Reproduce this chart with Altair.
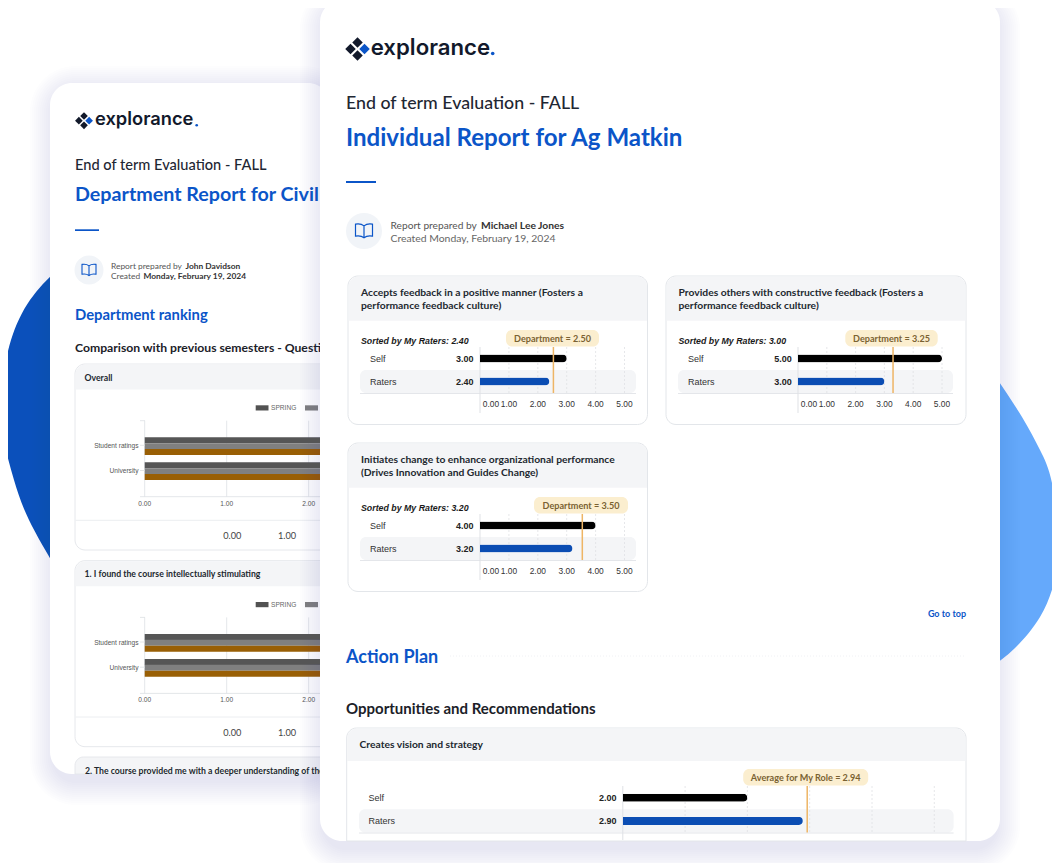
import altair as alt

# ---------- data ----------
AXIS_TICKS = [0, 1, 2, 3, 4, 5]
ROWS = ["Self", "Raters"]

P1_TITLE = ["Accepts feedback in a positive manner (Fosters a", "performance feedback culture)"]
P1_VALUES = [3.00, 2.40]
P1_MARK = 2.54
P1_MARK_LABEL = "Department = 2.50"
P1_SORT = "Sorted by My Raters: 2.40"

P2_TITLE = ["Provides others with constructive feedback (Fosters a", "performance feedback culture)"]
P2_VALUES = [5.00, 3.00]
P2_MARK = 3.30
P2_MARK_LABEL = "Department = 3.25"
P2_SORT = "Sorted by My Raters: 3.00"

P3_TITLE = ["Initiates change to enhance organizational performance", "(Drives Innovation and Guides Change)"]
P3_VALUES = [4.00, 3.20]
P3_MARK = 3.54
P3_MARK_LABEL = "Department = 3.50"
P3_SORT = "Sorted by My Raters: 3.20"

P4_VALUES = [2.00, 2.89]
P4_MARK = 2.96
P4_MARK_LABEL = "Average for My Role = 2.94"

BACK_CATS = ["Student ratings", "University"]
BACK_SPRING = [3.0, 3.0]
BACK_MIDDLE = [3.0, 3.0]
BACK_FALL = [3.0, 3.0]
BACK_TICKS = [0, 1, 2]

BLOB_L_Y = [270, 300, 340, 380, 407, 440, 480, 520, 570]
BLOB_L_X = [57, 30, 11, 3, 1.5, 4, 14, 29, 57]
BLOB_R_Y = [376, 417, 450, 483, 542, 583, 617, 648, 668]
BLOB_R_X = [995, 1022, 1040, 1052, 1059, 1054, 1040, 1015, 990]

BLUE = "#0b55c8"
INK = "#1f2733"
OX = 8
ONE = alt.Data(values=[{"a": 1}])
BOOK = ("M0,-0.6 C-0.3,-0.85 -0.7,-0.85 -1,-0.8 L-1,0.6 C-0.7,0.55 -0.3,0.55 0,0.8 "
        "C0.3,0.55 0.7,0.55 1,0.6 L1,-0.8 C0.7,-0.85 0.3,-0.85 0,-0.6 Z M0,-0.6 L0,0.8")

layers = []


def rect(x0, y0, x1, y1, fill, r=0, stroke=None, sw=1, opacity=None, top_only=False):
    kw = {"fill": fill}
    if top_only:
        kw.update(cornerRadiusTopLeft=r, cornerRadiusTopRight=r)
    elif r:
        kw["cornerRadius"] = r
    if stroke:
        kw.update(stroke=stroke, strokeWidth=sw)
    if opacity is not None:
        kw["opacity"] = opacity
    layers.append(alt.Chart(ONE).mark_rect(**kw).encode(
        x=alt.value(x0 - OX), x2=alt.value(x1 - OX),
        y=alt.value(y0 - OX), y2=alt.value(y1 - OX)))


def text(x, y, s, size=10, color=INK, weight="normal", font="Lato", align="left", style=None):
    kw = dict(fontSize=size, color=color, fontWeight=weight, font=font, align=align, baseline="middle")
    if style:
        kw["fontStyle"] = style
    layers.append(alt.Chart(ONE).mark_text(**kw).encode(
        x=alt.value(x - OX), y=alt.value(y + 0.08 * size - OX), text=alt.value(s)))


def rule(x0, y0, x1, y1, color, w=1, dash=None):
    kw = dict(color=color, strokeWidth=w)
    if dash:
        kw["strokeDash"] = dash
    layers.append(alt.Chart(ONE).mark_rule(**kw).encode(
        x=alt.value(x0 - OX), x2=alt.value(x1 - OX),
        y=alt.value(y0 - OX), y2=alt.value(y1 - OX)))


def sym(x, y, shape, size, fill=None, stroke=None, sw=1):
    kw = dict(shape=shape, size=size, opacity=1)
    if fill:
        kw.update(filled=True, color=fill)
    else:
        kw.update(filled=False, color=stroke, strokeWidth=sw)
    layers.append(alt.Chart(ONE).mark_point(**kw).encode(
        x=alt.value(x - OX), y=alt.value(y - OX)))


def shadow(x0, y0, x1, y1, r, dy=7, inset=4, n=12, a=0.011):
    for i in range(n, 0, -1):
        g = i * 2
        rect(x0 + inset - g, y0 - g + dy, x1 - inset + g, y1 + g + dy, "#2f5597", r=r + g, opacity=a)


def blob(ys, xs, base, color):
    rows = [{"y": a, "x": b, "b": base} for a, b in zip(ys, xs)]
    xs_scale = alt.Scale(domain=[0, 1060], range=[-OX, 1060 - OX])
    ys_scale = alt.Scale(domain=[0, 863], range=[-OX, 863 - OX])
    layers.append(alt.Chart(alt.Data(values=rows)).mark_area(
        orient="horizontal", interpolate="natural", color=color, opacity=1, clip=False).encode(
        x=alt.X("x:Q", scale=xs_scale, axis=None),
        x2="b:Q",
        y=alt.Y("y:Q", scale=ys_scale, axis=None, sort=None)))


def logo(cx, cy, k, tx, size, dot_x, dot_y):
    s = (10.5 * k) ** 2
    sym(cx, cy - 6.4 * k, "diamond", s, fill="#12192b")
    sym(cx - 7 * k, cy, "diamond", s, fill="#12192b")
    sym(cx, cy + 6.4 * k, "diamond", s, fill="#12192b")
    sym(cx + 7 * k, cy, "diamond", s, fill=BLUE)
    text(tx, cy - 1 * k - 0.08 * size, "explorance", size, "#12192b", 600, "Inter")
    sym(dot_x, dot_y, "circle", (3.6 * k) ** 2, fill=BLUE)


def panel(cx, cy, cw, ch, head_h, title_lines, title_x, values, mark, mark_label, pill, sort_label,
          bar_x0, bar_x1, row_y0, row_y1, label_x, value_x, band_x0, band_x1, clipped=False):
    # card and header
    rect(cx, cy, cx + cw, cy + ch, "#ffffff", r=10, stroke="#e3e6ea", top_only=clipped)
    rect(cx + 0.5, cy + 0.5, cx + cw - 0.5, cy + head_h, "#f4f5f7", r=10, top_only=True)
    for i, t in enumerate(title_lines):
        text(title_x, cy + (head_h / 2 if len(title_lines) == 1 else 16.2 + i * 12.7), t, 10.3, "#22282f", "bold")
    if sort_label:
        text(title_x, row_y0 - 6.6, sort_label, 8.8, "#1a1a1a", "bold", "Liberation Sans", style="italic")
    h = (row_y1 - row_y0) / 2
    # highlighted row
    rect(band_x0, row_y0 + h, band_x1, row_y1, "#f4f5f7", r=6)
    rule(band_x0, row_y1 + 0.5, band_x1, row_y1 + 0.5, "#e4e6ea")
    xs = alt.Scale(domain=[0, 5], range=[bar_x0 - OX, bar_x1 - OX], nice=False, zero=False)
    ys = alt.Scale(domain=ROWS, range=[row_y0 - OX, row_y1 - OX], paddingInner=0, paddingOuter=0)
    # grid lines from the tick list
    grid = alt.Data(values=[{"t": t} for t in AXIS_TICKS[1:]])
    layers.append(alt.Chart(grid).mark_rule(color="#dfe1e5", strokeWidth=0.8, strokeDash=[2, 2]).encode(
        x=alt.X("t:Q", scale=xs, axis=None),
        y=alt.value(row_y0 - OX), y2=alt.value(row_y1 - OX)))
    rule(bar_x0, row_y0, bar_x0, min(row_y1 + 20, cy + ch - 1), "#dfe1e5")
    # bars
    rows = [{"k": k, "v": v, "c": c} for k, v, c in zip(ROWS, values, ["#000000", "#0b4db3"])]
    layers.append(alt.Chart(alt.Data(values=rows)).mark_bar(height=8, cornerRadiusEnd=3.9).encode(
        x=alt.X("v:Q", scale=xs, axis=None),
        y=alt.Y("k:N", scale=ys, axis=None, sort=None),
        color=alt.Color("c:N", scale=None, legend=None)))
    # row names and values
    for i, k in enumerate(ROWS):
        yy = row_y0 + h * (i + 0.5) - 0.5
        text(label_x, yy, k, 9, "#333333", "normal", "Liberation Sans")
        text(value_x, yy, f"{values[i]:.2f}" if k == "Self" or not clipped else "2.90",
             9, "#222222", "bold", "Liberation Sans", align="right")
    # tick labels
    if not clipped:
        lab = [{"t": t, "s": f"{t:.2f}"} for t in AXIS_TICKS[1:]]
        layers.append(alt.Chart(alt.Data(values=lab)).mark_text(
            fontSize=8.4, font="Liberation Sans", color="#333333", baseline="middle").encode(
            x=alt.X("t:Q", scale=xs, axis=None), y=alt.value(row_y1 + 11 - OX), text="s:N"))
        lab0 = [{"t": 0, "s": "0.00"}]
        layers.append(alt.Chart(alt.Data(values=lab0)).mark_text(
            fontSize=8.4, font="Liberation Sans", color="#333333", baseline="middle", dx=11).encode(
            x=alt.X("t:Q", scale=xs, axis=None), y=alt.value(row_y1 + 11 - OX), text="s:N"))
    # marker line
    layers.append(alt.Chart(alt.Data(values=[{"m": mark}])).mark_rule(color="#eeb565", strokeWidth=1.5).encode(
        x=alt.X("m:Q", scale=xs, axis=None), y=alt.value(row_y0 - OX), y2=alt.value(row_y1 - OX)))
    # pill
    px0, px1 = pill
    rect(px0, row_y0 - 17, px1, row_y0 - 0.5, "#fbeecf", r=6)
    text((px0 + px1) / 2, row_y0 - 9.2, mark_label, 9.1, "#7a6232", "bold", align="center")


def back_chart(top, title):
    rect(75, top, 345, top + 186, "#ffffff", r=10, stroke="#e6e8ec")
    rect(75.5, top + 0.5, 345, top + 25.5, "#f4f5f7", r=10, top_only=True)
    text(84.5, top + 13, title, 8.7, "#22282f", "bold")
    # legend
    rect(255.7, top + 41.3, 268.5, top + 46.5, "#525252")
    text(271, top + 43.5, "SPRING", 6.6, "#666666", "normal", "Liberation Sans")
    rect(305, top + 41.3, 318, top + 46.5, "#808080")
    # axis
    xs = alt.Scale(domain=[0, 5], range=[144.7 - OX, 554.7 - OX], nice=False, zero=False)
    ys = alt.Scale(domain=BACK_CATS, range=[top + 69.6 - OX, top + 119.6 - OX], paddingInner=0, paddingOuter=0)
    grid = alt.Data(values=[{"t": t} for t in BACK_TICKS])
    layers.append(alt.Chart(grid).mark_rule(color="#dcdfe3", strokeWidth=0.8).encode(
        x=alt.X("t:Q", scale=xs, axis=None), y=alt.value(top + 56.7 - OX), y2=alt.value(top + 132.7 - OX)))
    rule(140, top + 132.7, 345, top + 132.7, "#dcdfe3", 0.8)
    rule(140, top + 56.7, 145, top + 56.7, "#dcdfe3", 0.8)
    for series, col, off in [(BACK_SPRING, "#565656", -5.9), (BACK_MIDDLE, "#808080", 0), (BACK_FALL, "#995f05", 5.9)]:
        rows = [{"k": k, "v": v} for k, v in zip(BACK_CATS, series)]
        layers.append(alt.Chart(alt.Data(values=rows)).mark_bar(height=5.95, yOffset=off, color=col).encode(
            x=alt.X("v:Q", scale=xs, axis=None),
            y=alt.Y("k:N", scale=ys, axis=None, sort=None)))
    for i, c in enumerate(BACK_CATS):
        yy = top + 81.3 + i * 25.2
        text(138.5, yy, c, 6.6, "#555555", "normal", "Liberation Sans", align="right")
        rule(140, yy, 144.7, yy, "#dcdfe3", 0.8)
    lab = [{"t": t, "s": f"{t:.2f}"} for t in BACK_TICKS]
    layers.append(alt.Chart(alt.Data(values=lab)).mark_text(
        fontSize=6.6, font="Liberation Sans", color="#555555", baseline="middle").encode(
        x=alt.X("t:Q", scale=xs, axis=None), y=alt.value(top + 139.5 - OX), text="s:N"))
    rule(75.5, top + 156.3, 345, top + 156.3, "#eceef1")
    text(232.3, top + 171.5, "0.00", 9.2, "#444444", "normal", align="center")
    text(287, top + 171.5, "1.00", 9.2, "#444444", "normal", align="center")


# ---------- background blobs ----------
blob(BLOB_L_Y, BLOB_L_X, 60, "#0b50bb")
blob(BLOB_R_Y, BLOB_R_X, 990, "#65a9fb")

# ---------- back card ----------
shadow(50, 83, 330, 774, 22)
rect(50, 83, 330, 774, "#ffffff", r=22)
logo(84, 120.7, 0.73, 95, 18.3, 196.7, 125.2)
text(75, 165, "End of term Evaluation - FALL", 14.6, INK, 500)
text(75, 193, "Department Report for Civil Engineering", 19.7, BLUE, "bold")
rect(75, 229.3, 99, 231, BLUE)
sym(89, 270, "circle", 29 ** 2, fill="#f1f4f8")
sym(89, 270, BOOK, 14 ** 2, stroke=BLUE, sw=1.1)
text(111, 265, "Report prepared by", 8.4, "#555555")
text(185.5, 265, "John Davidson", 8.4, "#333333", "bold")
text(111, 275.7, "Created", 8.4, "#555555")
text(143.5, 275.7, "Monday, February 19, 2024", 8.4, "#333333", "bold")
text(75, 314.5, "Department ranking", 14.8, BLUE, "bold")
text(75, 347.5, "Comparison with previous semesters - Question", 12.2, "#1b2128", "bold")
back_chart(364, "Overall")
back_chart(560.7, "1. I found the course intellectually stimulating")
rect(75, 757, 345, 774, "#f4f5f7", r=10, stroke="#e6e8ec", top_only=True)
text(85, 770.3, "2. The course provided me with a deeper understanding of the course", 8.7, "#22282f", "bold")

# ---------- front card ----------
shadow(320, 0, 1000, 841, 22)
rect(320, 0, 1000, 841, "#ffffff", r=22)
logo(357.5, 49, 1.0, 370.7, 22.2, 492.7, 53.5)
text(346, 103, "End of term Evaluation - FALL", 17.8, INK, 500)
text(346, 137, "Individual Report for Ag Matkin", 24.1, BLUE, "bold")
rect(346, 181, 376, 183, BLUE)
sym(364, 231, "circle", 36 ** 2, fill="#f1f4f8")
sym(364, 231, BOOK, 17 ** 2, stroke=BLUE, sw=1.2)
text(390.5, 225, "Report prepared by", 10.2, "#555555")
text(481, 225, "Michael Lee Jones", 10.3, "#333333", "bold")
text(390.5, 238, "Created Monday, February 19, 2024", 10.4, "#666666")

panel(348, 276, 299.5, 148.5, 44.7, P1_TITLE, 361, P1_VALUES, P1_MARK, P1_MARK_LABEL, (506, 599), P1_SORT,
      480, 624.5, 347, 393, 370, 473.5, 360, 636)
panel(666, 276, 300, 148.5, 44.7, P2_TITLE, 678.5, P2_VALUES, P2_MARK, P2_MARK_LABEL, (845.3, 937.7), P2_SORT,
      798, 942, 347, 393, 688, 791.7, 678, 953)
panel(348, 443, 299.5, 148.5, 44.7, P3_TITLE, 361, P3_VALUES, P3_MARK, P3_MARK_LABEL, (534, 628), P3_SORT,
      480, 624.5, 514, 560, 370, 473.5, 360, 636)

text(966, 613, "Go to top", 9.0, BLUE, "bold", align="right")
text(346, 656.5, "Action Plan", 18, BLUE, "bold")
rule(450, 656, 966, 656, "#eceef1", 0.8, dash=[1, 2])
text(346, 707.5, "Opportunities and Recommendations", 15, "#1b2128", "bold")

panel(346.7, 728, 619.3, 113, 33, ["Creates vision and strategy"], 359.5, P4_VALUES, P4_MARK, P4_MARK_LABEL,
      (743.2, 868.2), None, 622.8, 934.3, 786, 832.5, 368.6, 616.5, 359, 953.6, clipped=True)

chart = alt.layer(*layers).resolve_scale(x="independent", y="independent", color="independent").properties(
    width=1044, height=855, padding=0, background="#ffffff",
    autosize=alt.AutoSizeParams(type="none"),
).configure_view(stroke=None)

chart.save("out.html", embed_options={"renderer": "svg", "actions": False})
